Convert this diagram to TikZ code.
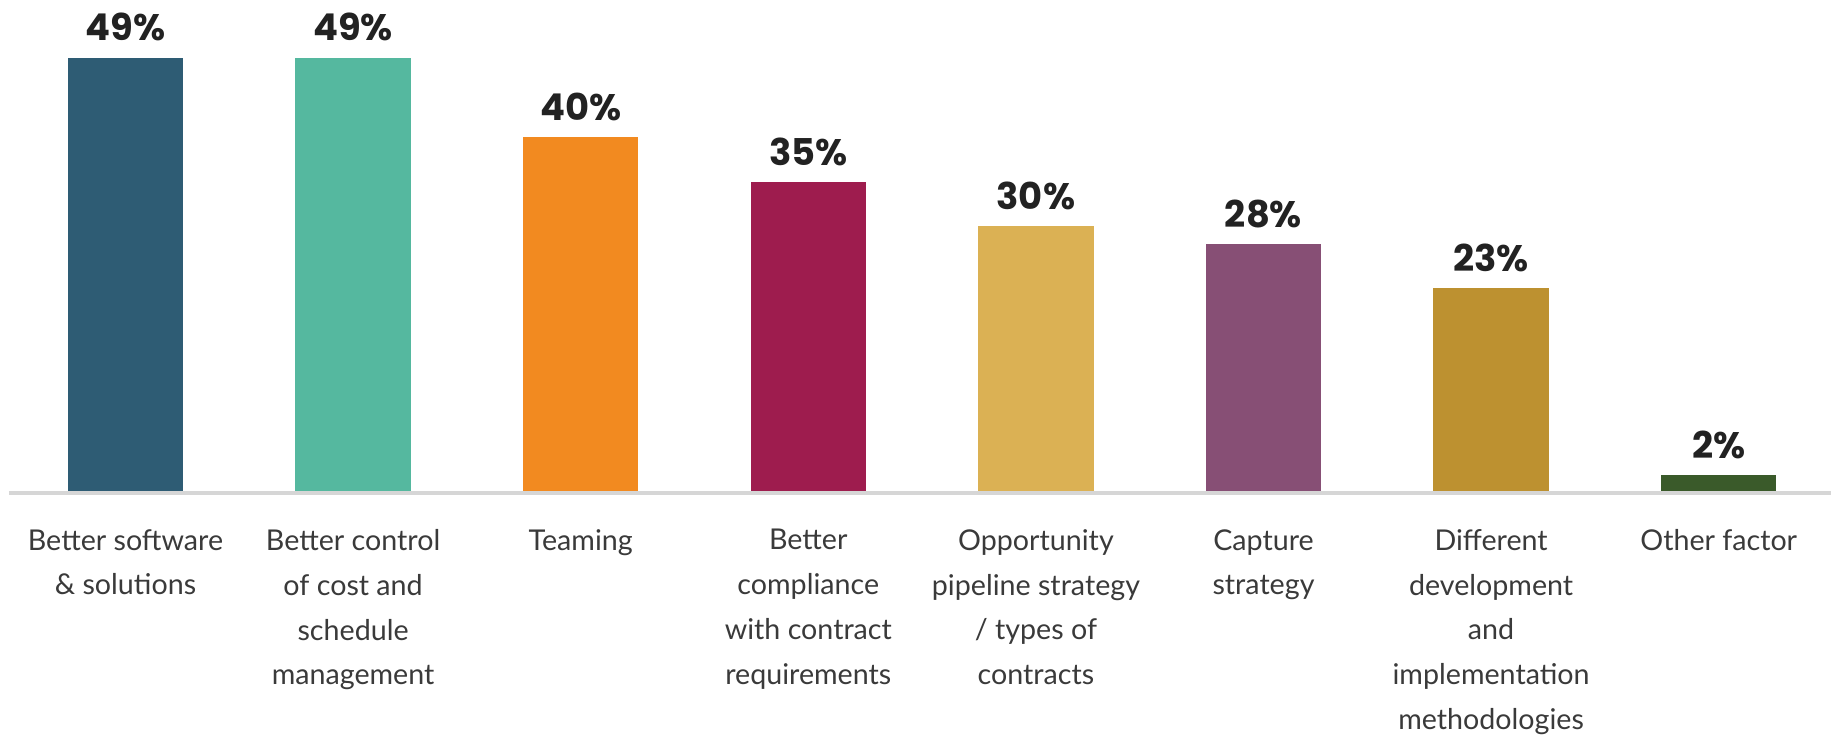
\documentclass[tikz,border=0pt]{standalone}
\usepackage{fontspec}
\setmainfont{Lato}
\newfontfamily\valfont{Poppins}
\usetikzlibrary{positioning}
\definecolor{barA}{HTML}{2E5C74}
\definecolor{barB}{HTML}{55B89F}
\definecolor{barC}{HTML}{F28A20}
\definecolor{barD}{HTML}{9E1C4E}
\definecolor{barE}{HTML}{DBB154}
\definecolor{barF}{HTML}{874F75}
\definecolor{barG}{HTML}{BD9130}
\definecolor{barH}{HTML}{3A5A2A}
\definecolor{pcttext}{HTML}{222222}
\definecolor{cattext}{HTML}{3A3A3A}
\definecolor{axisgray}{HTML}{D6D6D6}
\tikzset{
  bar/.style={draw=none, minimum width=2.31cm, inner sep=0pt, anchor=south},
  pct/.style={font=\valfont\bfseries\fontsize{21}{24}\selectfont, text=pcttext, inner sep=0pt},
  cat/.style={font=\fontsize{16.3}{25.5}\selectfont, text=cattext, align=center, inner sep=0pt},
  axisline/.style={draw=axisgray, line width=2pt}
}
\begin{document}
\begin{tikzpicture}
      \useasboundingbox (0,0) rectangle (36.62,14.68);
      % bars, values and categories
      \foreach \i/\p/\c/\t in {1/49/barA/{Better software\\\& solutions},
                               2/49/barB/{Better control\\of cost and\\schedule\\management},
                               3/40/barC/{Teaming},
                               4/35/barD/{Better\\compliance\\with contract\\requirements},
                               5/30/barE/{Opportunity\\pipeline strategy\\/ types of\\contracts},
                               6/28/barF/{Capture\\strategy},
                               7/23/barG/{Different\\development\\and\\implementation\\methodologies},
                               8/2/barH/{Other factor}}{
        \node[bar, fill=\c, minimum height=\p*0.1776cm] (b\i) at ({2.51+4.552*(\i-1)}, 4.82) {};
        \node[pct, above=0.31cm of b\i] (v\i) {\p\%};
        \node[cat, below=0.72cm of b\i.south, anchor=north] (l\i) {\t};
      }
      % axis
      \coordinate (axl) at (0.18,4.82);
      \coordinate (axr) at (36.62,4.82);
      \draw[axisline] (axl) -- (axr);
\end{tikzpicture}
\end{document}
